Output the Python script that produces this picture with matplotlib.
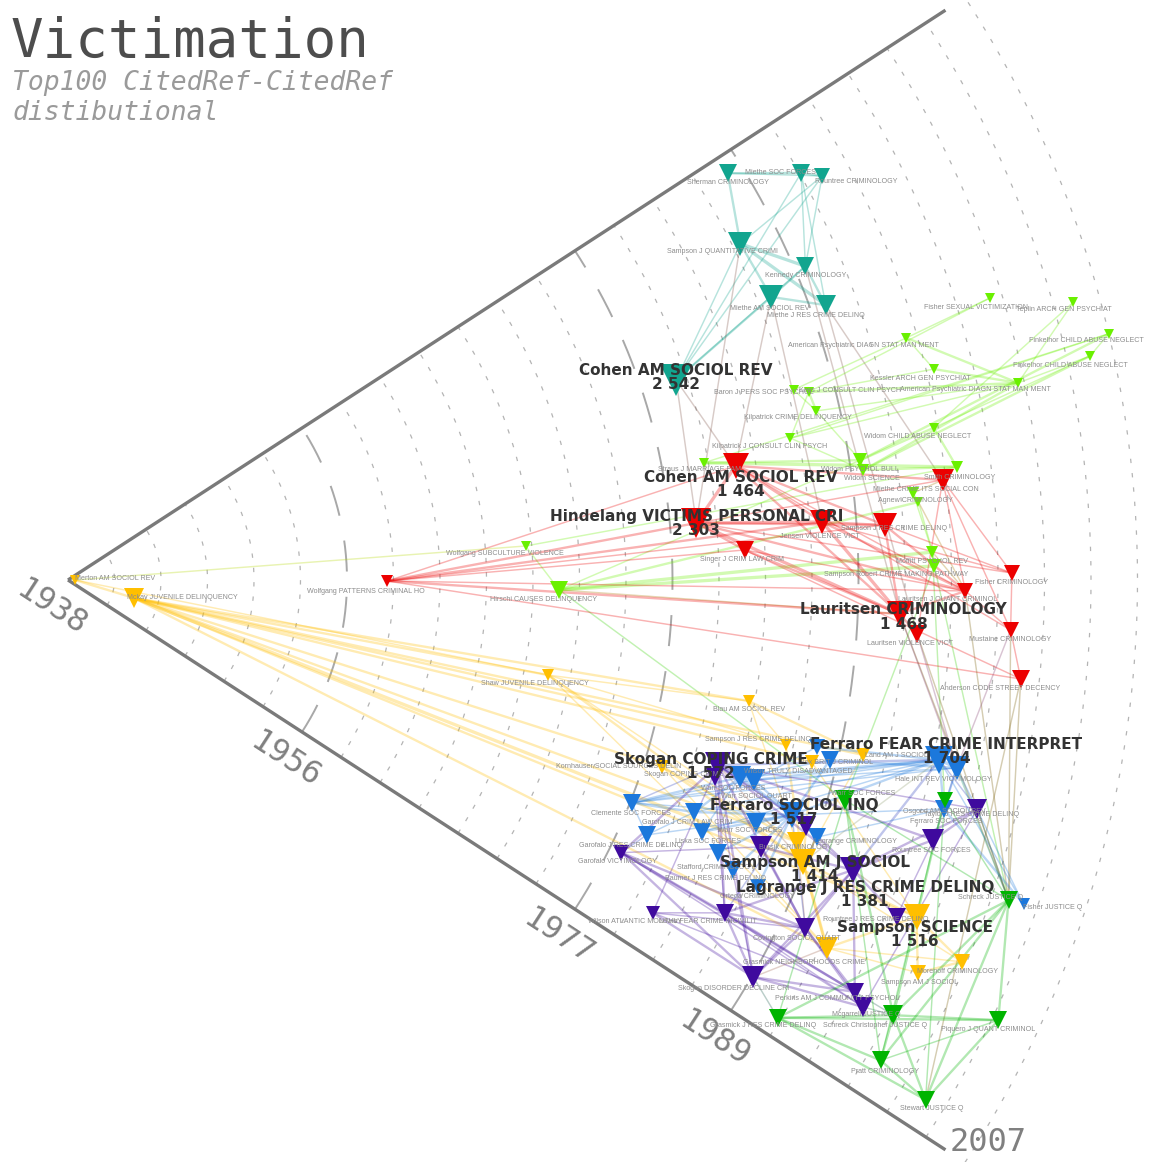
"""Victimation: top-100 co-cited references laid out on a publication-year fan."""

import numpy as np
import matplotlib

matplotlib.use("Agg")
import matplotlib.pyplot as plt
from matplotlib import colors as mcolors

W_PX, H_PX, DPI = 1153, 1162, 100
PT = 72 / DPI  # points per pixel

YEAR_START, YEAR_END = 1938, 2007
YEAR_STEP = 3
MAJOR_YEARS = [1956, 1977, 1989]
LABEL_YEARS = [1938, 1956, 1977, 1989]
HALF_ANGLE = 33.0

GROUP_COLORS = {
    "teal": "#12a58f",
    "red": "#ec0000",
    "lime": "#6af000",
    "gold": "#ffbf00",
    "blue": "#1c78dc",
    "purple": "#3f0a9e",
    "green": "#00b400",
}

# ---- nodes -----------------------------------------------------------------
NODE_ID = [
    "sherman", "mietheSF", "rountreeC", "sampsonQ", "kennedy", "mietheAM", "mietheJR", "cohen79",
    "cohen81", "hindelang", "singer", "jensen", "sampsonJR", "smith", "wolfgangP", "fisherC",
    "lauritsenQ", "lauritsenC", "lauritsenV", "mustaine", "anderson",
    "fisherS", "teplin", "apaU", "finkU", "finkL", "kessler", "apaL", "baron", "koss", "kilpatrickC",
    "widomC", "kilpatrickJ", "straus", "widomP", "widomS", "limeA", "mietheCR", "agnew", "moffitt",
    "sampsonR", "wolfgangS", "hirschi",
    "merton", "mckay", "shaw", "blau", "sampsonJy", "kornhauser", "wilsonTD", "land", "bursik",
    "sampsonA", "grasmickN", "sampsonS", "morenoff", "sampsonA99",
    "ferraroF", "hale", "clemente", "garofaloC", "warrSF", "warrSQ", "ferraroS", "warr85", "liska",
    "garofaloR", "lagrangeC", "stafford", "baumer", "ortega", "box", "blueA", "ferraroSF", "fisherJ",
    "skoganC", "skoganC2", "garofaloV", "wilsonA", "lewis", "covington", "skoganD", "perkins",
    "mcgarrell", "lagrangeJ", "rountreeJ", "rountreeS", "taylorJ", "purpleA", "purpleB",
    "osgood", "warrG", "schreck", "grasmickJ", "schreckC", "piquero", "pratt", "stewart",
]

NODE_LABEL = [
    "Sherman CRIMINOLOGY", "Miethe SOC FORCES", "Rountree CRIMINOLOGY", "Sampson J QUANTITATIVE CRIMI",
    "Kennedy CRIMINOLOGY", "Miethe AM SOCIOL REV", "Miethe J RES CRIME DELINQ", "Cohen AM SOCIOL REV",
    "Cohen AM SOCIOL REV", "Hindelang VICTIMS PERSONAL CRI", "Singer J CRIM LAW CRIM", "Jensen VIOLENCE VICT",
    "Sampson J RES CRIME DELINQ", "Smith CRIMINOLOGY", "Wolfgang PATTERNS CRIMINAL HO", "Fisher CRIMINOLOGY",
    "Lauritsen J QUANT CRIMINOL", "Lauritsen CRIMINOLOGY", "Lauritsen VIOLENCE VICT", "Mustaine CRIMINOLOGY",
    "Anderson CODE STREET DECENCY",
    "Fisher SEXUAL VICTIMIZATION", "Teplin ARCH GEN PSYCHIAT", "American Psychiatric DIAGN STAT MAN MENT",
    "Finkelhor CHILD ABUSE NEGLECT", "Finkelhor CHILD ABUSE NEGLECT", "Kessler ARCH GEN PSYCHIAT",
    "American Psychiatric DIAGN STAT MAN MENT", "Baron J PERS SOC PSYCHOL", "Koss J CONSULT CLIN PSYCH",
    "Kilpatrick CRIME DELINQUENCY", "Widom CHILD ABUSE NEGLECT", "Kilpatrick J CONSULT CLIN PSYCH",
    "Straus J MARRIAGE FAM", "Widom PSYCHOL BULL", "Widom SCIENCE", "", "Miethe CRIME ITS SOCIAL CON",
    "Agnew CRIMINOLOGY", "Moffitt PSYCHOL REV", "Sampson Robert CRIME MAKING PATHWAY",
    "Wolfgang SUBCULTURE VIOLENCE", "Hirschi CAUSES DELINQUENCY",
    "Merton AM SOCIOL REV", "Mckay JUVENILE DELINQUENCY", "Shaw JUVENILE DELINQUENCY", "Blau AM SOCIOL REV",
    "Sampson J RES CRIME DELINQ", "Kornhauser SOCIAL SOURCES DELIN", "Wilson TRULY DISADVANTAGED",
    "Land AM J SOCIOL", "Bursik CRIMINOLOGY", "Sampson AM J SOCIOL", "Grasmick NEIGHBORHOODS CRIME",
    "Sampson SCIENCE", "Morenoff CRIMINOLOGY", "Sampson AM J SOCIOL",
    "Ferraro FEAR CRIME INTERPRET", "Hale INT REV VICTIMOLOGY", "Clemente SOC FORCES",
    "Garofalo J CRIM LAW CRIM", "Warr SOC FORCES", "Warr SOCIOL QUART", "Ferraro SOCIOL INQ",
    "Warr SOC FORCES", "Liska SOC FORCES", "Garofalo J RES CRIME DELINQ", "Lagrange CRIMINOLOGY",
    "Stafford CRIMINOLOGY", "Baumer J RES CRIME DELINQ", "Ortega CRIMINOLOGY", "Box BRIT J CRIMINOL", "",
    "Ferraro SOC FORCES", "Fisher JUSTICE Q",
    "Skogan COPING CRIME", "Skogan COPING CRIME", "Garofalo VICTIMOLOGY", "Wilson ATLANTIC MONTHLY",
    "Lewis FEAR CRIME INCIVILIT", "Covington SOCIOL QUART", "Skogan DISORDER DECLINE CRI",
    "Perkins AM J COMMUNITY PSYCHOL", "Mcgarrell JUSTICE Q", "Lagrange J RES CRIME DELINQ",
    "Rountree J RES CRIME DELINQ", "Rountree SOC FORCES", "Taylor J RES CRIME DELINQ", "", "",
    "Osgood AM SOCIOL REV", "Warr SOC FORCES", "Schreck JUSTICE Q", "Grasmick J RES CRIME DELINQ",
    "Schreck Christopher JUSTICE Q", "Piquero J QUANT CRIMINOL", "Pratt CRIMINOLOGY", "Stewart JUSTICE Q",
]

NODE_YEAR = [
    1988.0, 1992.1, 1993.2, 1986.5, 1989.7, 1986.9, 1990.0, 1979.3,
    1981.7, 1978.7, 1981.7, 1986.8, 1990.8, 1994.8, 1958.6, 1998.9, 1995.9, 1991.7, 1992.9, 1998.9, 1999.8,
    2000.2, 2005.3, 1994.3, 2007.0, 2005.5, 1995.5, 2000.6, 1986.4, 1987.3, 1987.5, 1994.7, 1985.5,
    1979.7, 1989.7, 1989.8, 1995.8, 1992.8, 1993.1, 1993.8, 1993.9, 1967.6, 1969.7,
    1938.45, 1942.4, 1969.6, 1982.6, 1985.5, 1978.2, 1987.4, 1990.5, 1988.0, 1988.8, 1992.4, 1996.9,
    2000.7, 1998.4,
    1995.4, 1996.6, 1977.1, 1981.1, 1983.2, 1984.1, 1987.1, 1985.1, 1982.0, 1978.8, 1989.1, 1983.5,
    1984.8, 1986.7, 1988.5, 1987.5, 1996.4, 2003.1,
    1981.6, 1981.6, 1977.8, 1981.4, 1985.5, 1990.6, 1989.1, 1995.3, 1996.2, 1992.0, 1995.7, 1996.3,
    1998.5, 1985.9, 1988.2,
    1996.3, 1990.1, 2002.1, 1991.8, 1998.2, 2004.4, 1998.9, 2002.7,
]

# angular position inside the fan, degrees (0 = middle, +33 = upper edge)
NODE_ANGLE = [
    31.66, 29.04, 28.18, 26.57, 23.05, 21.93, 19.94, 18.21,
    9.70, 5.18, 2.54, 4.40, 3.85, 6.52, -0.18, 0.42, -0.70, -2.34, -3.64, -3.04, -5.93,
    17.01, 15.45, 16.11, 13.31, 12.36, 13.69, 11.72, 14.69, 14.24, 12.73, 9.97, 11.11,
    10.44, 8.60, 7.87, 7.25, 5.88, 5.24, 1.85, 0.93, 4.25, -1.16,
    0.0, -15.26, -11.20, -10.08, -12.94, -17.45, -13.76, -12.41, -19.77, -20.99, -25.87, -21.65,
    -23.13, -24.81,
    -11.66, -11.94, -21.57, -20.33, -16.34, -16.25, -17.98, -19.45, -21.67, -23.77, -18.94, -22.75,
    -23.56, -23.99, -13.31, -12.57, -14.65, -18.74,
    -15.89, -16.93, -26.23, -29.65, -26.88, -25.27, -30.09, -27.63, -28.24, -20.27, -22.12, -16.71,
    -14.13, -21.07, -18.43,
    -14.08, -15.81, -18.80, -31.67, -27.80, -25.32, -30.59, -31.22,
]

NODE_CITES = [
    500, 600, 450, 1200, 600, 1200, 800, 2542,
    1464, 2303, 500, 1200, 1200, 900, 150, 400, 450, 1468, 600, 450, 500,
    50, 40, 40, 50, 50, 50, 70, 70, 60, 80, 70, 50, 40, 200, 150, 120, 150, 60, 180, 200, 60, 550,
    40, 800, 100, 130, 100, 250, 250, 250, 700, 1414, 900, 1516, 400, 400,
    1704, 1300, 500, 500, 900, 900, 1517, 700, 500, 500, 600, 500, 500, 400, 500, 400, 500, 150,
    1572, 500, 400, 250, 600, 800, 900, 600, 800, 1381, 600, 900, 700, 900, 700,
    400, 700, 500, 500, 700, 600, 500, 600,
]

NODE_GROUP = (["teal"] * 8 + ["red"] * 13 + ["lime"] * 22 + ["gold"] * 14
              + ["blue"] * 18 + ["purple"] * 15 + ["green"] * 8)

# ---- co-citation links (a, b, strength) ------------------------------------
EDGES = [
    ("sherman", "mietheSF", 2), ("mietheSF", "rountreeC", 2), ("sherman", "rountreeC", 1),
    ("sherman", "sampsonQ", 2), ("sampsonQ", "kennedy", 3), ("sampsonQ", "mietheAM", 2),
    ("sampsonQ", "mietheJR", 3), ("kennedy", "mietheAM", 2), ("kennedy", "mietheJR", 2),
    ("mietheAM", "mietheJR", 2), ("mietheSF", "kennedy", 1), ("rountreeC", "kennedy", 1),
    ("mietheSF", "mietheJR", 1), ("mietheSF", "cohen79", 1), ("rountreeC", "cohen79", 1),
    ("sampsonQ", "cohen79", 1), ("mietheAM", "cohen79", 2), ("kennedy", "cohen79", 1),
    ("rountreeC", "sampsonQ", 1),
    ("mietheJR", "smith", 1), ("mietheAM", "cohen81", 1), ("cohen79", "cohen81", 1),
    ("kennedy", "lauritsenC", 1), ("mietheJR", "lauritsenV", 1), ("sampsonQ", "hindelang", 1),
    ("cohen79", "hindelang", 1), ("mietheAM", "jensen", 1),
    # lime
    ("fisherS", "apaU", 1), ("fisherS", "koss", 1), ("teplin", "apaL", 1), ("teplin", "widomC", 1),
    ("apaU", "apaL", 2), ("apaU", "kessler", 1), ("apaU", "baron", 1), ("kessler", "apaL", 2),
    ("kessler", "koss", 1), ("apaL", "koss", 2), ("apaL", "kilpatrickC", 1), ("apaL", "kilpatrickJ", 1),
    ("apaL", "widomS", 2), ("finkU", "finkL", 1), ("finkU", "widomP", 2), ("finkU", "kilpatrickJ", 1),
    ("finkU", "straus", 1), ("finkL", "widomC", 1), ("finkL", "widomS", 2), ("finkL", "apaL", 1),
    ("koss", "kilpatrickC", 2), ("baron", "kilpatrickC", 1), ("koss", "kilpatrickJ", 1),
    ("kilpatrickC", "widomP", 1), ("widomC", "widomP", 2), ("widomC", "limeA", 2),
    ("widomP", "widomS", 2), ("straus", "limeA", 3), ("straus", "widomP", 2),
    ("kilpatrickJ", "widomS", 1), ("mietheCR", "agnew", 1), ("agnew", "moffitt", 1),
    ("moffitt", "sampsonR", 2), ("hirschi", "moffitt", 3), ("hirschi", "sampsonR", 3),
    ("hirschi", "agnew", 2), ("hirschi", "widomP", 1), ("hirschi", "wolfgangS", 1),
    ("merton", "wolfgangS", 1), ("wolfgangS", "limeA", 1), ("widomS", "limeA", 2),
    ("mietheCR", "moffitt", 1),
    ("hirschi", "warrG", 1), ("moffitt", "osgood", 1), ("sampsonR", "warrG", 1),
    ("sampsonR", "schreck", 1), ("hirschi", "lauritsenC", 1), ("mietheCR", "smith", 1),
    ("agnew", "lauritsenQ", 1), ("moffitt", "lauritsenQ", 1),
    # red
    ("wolfgangP", "hindelang", 2), ("wolfgangP", "cohen81", 1), ("wolfgangP", "jensen", 2),
    ("wolfgangP", "lauritsenC", 2), ("wolfgangP", "singer", 1), ("wolfgangP", "anderson", 1),
    ("wolfgangP", "sampsonJR", 1), ("wolfgangP", "lauritsenQ", 1), ("hindelang", "cohen81", 3),
    ("hindelang", "singer", 2), ("hindelang", "jensen", 3), ("hindelang", "sampsonJR", 2),
    ("hindelang", "lauritsenC", 3), ("hindelang", "lauritsenQ", 2), ("hindelang", "smith", 1),
    ("cohen81", "jensen", 2), ("cohen81", "sampsonJR", 2), ("cohen81", "smith", 2),
    ("cohen81", "lauritsenC", 2), ("cohen81", "lauritsenQ", 1), ("jensen", "lauritsenC", 3),
    ("jensen", "sampsonJR", 2), ("jensen", "lauritsenQ", 2), ("sampsonJR", "lauritsenQ", 2),
    ("sampsonJR", "fisherC", 1), ("sampsonJR", "lauritsenC", 2), ("smith", "lauritsenQ", 1),
    ("smith", "fisherC", 1), ("smith", "mustaine", 1), ("smith", "lauritsenV", 1),
    ("lauritsenC", "lauritsenV", 2), ("lauritsenC", "lauritsenQ", 2), ("lauritsenQ", "mustaine", 1),
    ("fisherC", "mustaine", 1), ("mustaine", "anderson", 1), ("singer", "lauritsenC", 2),
    ("singer", "lauritsenQ", 1), ("hindelang", "fisherC", 1), ("cohen81", "mustaine", 1),
    ("singer", "anderson", 1), ("jensen", "fisherC", 1),
    ("lauritsenC", "schreck", 1), ("lauritsenQ", "schreck", 1), ("mustaine", "schreck", 1),
    ("anderson", "schreck", 1), ("lauritsenV", "schreck", 1), ("lauritsenV", "hale", 1),
    ("mustaine", "hale", 1), ("lauritsenC", "hale", 1), ("anderson", "stewart", 1),
    # gold
    ("merton", "mckay", 2), ("mckay", "shaw", 2), ("mckay", "blau", 2), ("mckay", "kornhauser", 2),
    ("mckay", "sampsonJy", 2), ("mckay", "sampsonA", 3), ("mckay", "bursik", 2),
    ("mckay", "wilsonTD", 2), ("mckay", "grasmickN", 2), ("mckay", "land", 2), ("mckay", "sampsonS", 2),
    ("shaw", "blau", 1), ("shaw", "sampsonA", 2), ("shaw", "bursik", 1), ("shaw", "sampsonJy", 1),
    ("shaw", "grasmickN", 1), ("blau", "sampsonJy", 1), ("blau", "land", 2), ("blau", "sampsonA", 1),
    ("kornhauser", "sampsonA", 2), ("kornhauser", "bursik", 2), ("kornhauser", "grasmickN", 1),
    ("sampsonJy", "sampsonA", 2), ("sampsonA", "bursik", 3), ("sampsonA", "grasmickN", 3),
    ("sampsonA", "sampsonS", 2), ("sampsonA", "morenoff", 1), ("bursik", "grasmickN", 2),
    ("grasmickN", "sampsonS", 2), ("grasmickN", "morenoff", 1), ("sampsonS", "morenoff", 2),
    ("sampsonS", "sampsonA99", 2), ("morenoff", "sampsonA99", 2), ("grasmickN", "sampsonA99", 1),
    ("wilsonTD", "sampsonA", 2), ("land", "sampsonA", 1), ("wilsonTD", "sampsonS", 1),
    ("merton", "shaw", 1),
    ("sampsonA", "skoganC", 1), ("bursik", "covington", 1), ("sampsonS", "lagrangeJ", 1),
    ("grasmickN", "skoganD", 1),
    # blue
    ("ferraroF", "hale", 3), ("ferraroF", "ferraroS", 2), ("ferraroF", "warrSF", 2),
    ("ferraroF", "warrSQ", 2), ("ferraroF", "clemente", 1), ("ferraroF", "garofaloC", 1),
    ("ferraroF", "liska", 1), ("ferraroF", "ferraroSF", 2), ("ferraroF", "fisherJ", 1),
    ("hale", "ferraroSF", 2), ("hale", "fisherJ", 1), ("hale", "box", 2), ("clemente", "garofaloC", 2),
    ("clemente", "warrSF", 2), ("clemente", "ferraroS", 1), ("clemente", "warrSQ", 1),
    ("clemente", "garofaloR", 1), ("garofaloC", "warrSF", 2), ("garofaloC", "ferraroS", 2),
    ("liska", "ferraroS", 2), ("warrSF", "warrSQ", 3), ("warrSF", "ferraroS", 2),
    ("warrSQ", "ferraroS", 2), ("ferraroS", "box", 2), ("ferraroS", "lagrangeC", 2),
    ("ferraroS", "ferraroSF", 1), ("stafford", "ferraroS", 2), ("baumer", "ferraroS", 2),
    ("ortega", "ferraroS", 2), ("warr85", "ferraroS", 2), ("lagrangeC", "ferraroSF", 1),
    ("box", "warrSF", 1), ("hale", "warrSQ", 1), ("ferraroSF", "fisherJ", 2), ("blueA", "ferraroF", 2),
    ("blueA", "warrSQ", 1), ("garofaloR", "garofaloC", 1), ("stafford", "baumer", 1),
    ("garofaloR", "ferraroS", 1), ("hale", "clemente", 1), ("liska", "warrSF", 1),
    ("ferraroF", "skoganC", 2), ("ferraroS", "skoganC", 2), ("ferraroF", "lagrangeJ", 2),
    ("hale", "rountreeS", 1), ("ferraroF", "taylorJ", 1), ("warrSF", "skoganC", 2),
    ("ferraroS", "lewis", 1), ("ferraroF", "sampsonA", 1), ("hale", "schreck", 1),
    ("garofaloR", "garofaloV", 1), ("clemente", "skoganC", 1), ("ferraroS", "covington", 1),
    # purple
    ("skoganC", "garofaloV", 2), ("skoganC", "wilsonA", 1), ("skoganC", "lewis", 2),
    ("skoganC", "lagrangeJ", 2), ("skoganC", "skoganD", 2), ("skoganC", "covington", 2),
    ("skoganC", "rountreeS", 2), ("skoganC", "taylorJ", 1), ("garofaloV", "lewis", 2),
    ("garofaloV", "covington", 2), ("garofaloV", "skoganD", 2), ("garofaloV", "perkins", 2),
    ("garofaloV", "mcgarrell", 1), ("wilsonA", "lewis", 1), ("wilsonA", "skoganD", 2),
    ("wilsonA", "covington", 1), ("wilsonA", "perkins", 1), ("lewis", "covington", 2),
    ("lewis", "skoganD", 2), ("lewis", "lagrangeJ", 2), ("lewis", "perkins", 2), ("lewis", "mcgarrell", 1),
    ("covington", "lagrangeJ", 2), ("covington", "skoganD", 2), ("covington", "perkins", 2),
    ("covington", "mcgarrell", 2), ("lagrangeJ", "rountreeS", 2), ("lagrangeJ", "taylorJ", 2),
    ("lagrangeJ", "skoganD", 2), ("lagrangeJ", "perkins", 2), ("lagrangeJ", "rountreeJ", 2),
    ("rountreeJ", "rountreeS", 1), ("rountreeS", "taylorJ", 2), ("skoganD", "perkins", 2),
    ("skoganD", "mcgarrell", 2), ("perkins", "mcgarrell", 2), ("purpleA", "lagrangeJ", 2),
    ("purpleA", "covington", 2), ("purpleB", "lagrangeJ", 2), ("purpleA", "garofaloV", 1),
    ("purpleB", "skoganC", 1), ("taylorJ", "mcgarrell", 1), ("skoganC2", "skoganD", 1),
    ("skoganC2", "lewis", 1),
    ("taylorJ", "schreck", 1), ("mcgarrell", "schreckC", 1), ("perkins", "schreckC", 1),
    ("skoganD", "grasmickJ", 1),
    # green
    ("schreck", "schreckC", 2), ("schreck", "piquero", 2), ("schreck", "pratt", 2),
    ("schreck", "stewart", 2), ("schreck", "grasmickJ", 2), ("schreck", "osgood", 1),
    ("schreck", "warrG", 1), ("grasmickJ", "schreckC", 2), ("grasmickJ", "pratt", 2),
    ("grasmickJ", "stewart", 2), ("grasmickJ", "piquero", 2), ("schreckC", "pratt", 2),
    ("schreckC", "stewart", 2), ("schreckC", "piquero", 2), ("piquero", "pratt", 1),
    ("piquero", "stewart", 2), ("pratt", "stewart", 2), ("osgood", "schreckC", 2),
    ("osgood", "pratt", 1), ("warrG", "grasmickJ", 1), ("warrG", "schreckC", 2),
    ("osgood", "stewart", 1), ("warrG", "pratt", 1),
]

# ---- layout tweaks (pixels; dy positive = downwards) -----------------------
R_PX = 1069.5          # radius of the YEAR_END arc
APEX_PX = (68, 580)    # fan apex, measured from the top-left corner
EDGE_END_YEAR = 2005.5
LABEL_NUDGE = {
    "mietheSF": (-21, 0), "rountreeC": (34, 6), "sampsonQ": (-18, 8), "mietheAM": (-1, 12),
    "mietheJR": (-10, 10), "fisherS": (-14, 10), "teplin": (-10, 7), "apaU": (-43, 8),
    "finkU": (-22, 7), "finkL": (-20, 9), "kessler": (-14, 9), "apaL": (-43, 7), "baron": (-30, 3),
    "koss": (41, -2), "kilpatrickC": (-18, 7), "widomC": (-16, 9), "kilpatrickJ": (-21, 8),
    "straus": (-4, 7), "widomS": (9, 8), "smith": (17, -3), "mietheCR": (13, -3), "agnew": (-3, -2),
    "sampsonR": (-38, 9), "wolfgangS": (-21, 8), "hirschi": (-16, 10), "jensen": (-2, 15),
    "sampsonJR": (10, 3), "wolfgangP": (-21, 10), "lauritsenQ": (-18, 9), "lauritsenV": (-7, 9),
    "anderson": (-21, 10), "merton": (40, -2), "mckay": (49, 0), "shaw": (-14, 8),
    "sampsonJy": (-27, -5), "kornhauser": (-44, 0), "wilsonTD": (-13, 9), "land": (34, 1),
    "box": (7, 2), "bursik": (-2, 5), "grasmickN": (-23, 15), "hale": (-13, 12),
    "ferraroSF": (2, 13), "osgood": (0, 12), "taylorJ": (-6, 6), "rountreeS": (-2, 11),
    "fisherJ": (29, 3), "schreck": (-18, -3), "clemente": (-1, 11), "garofaloC": (-7, 10),
    "garofaloR": (-16, 11), "liska": (6, 10), "warrSF": (-7, 11), "warrSQ": (2, 17),
    "warr85": (-6, 7), "lagrangeC": (38, 4), "stafford": (-3, 15), "baumer": (-17, 9),
    "ortega": (0, 10), "wilsonA": (-18, 9), "lewis": (-17, 9), "covington": (-8, 10),
    "rountreeJ": (-21, 3), "skoganD": (-20, 11), "perkins": (-18, 7), "mcgarrell": (4, 8),
    "grasmickJ": (-15, 8), "schreckC": (-18, 10), "piquero": (-10, 9), "pratt": (4, 11),
    "stewart": (6, 9), "warrG": (18, -7), "skoganC2": (-31, -2), "garofaloV": (-4, 9),
    "singer": (-3, 10), "morenoff": (-4, 10), "sampsonA99": (2, 10),
}
BIG_NUDGE = {
    "cohen79": (0, -2), "cohen81": (5, 19), "hindelang": (0, 0), "lauritsenC": (4, 3),
    "ferraroF": (7, -8), "skoganC": (-7, 1), "ferraroS": (2, -2), "sampsonA": (12, 7),
    "lagrangeJ": (12, 25), "sampsonS": (-2, 18),
}
N_BIG = 10
SMALL_FONT = dict(fontsize=5.1, family="Liberation Sans", color="#8c8c8c")


def offset_pts(dx_px, dy_px):
    return (dx_px * PT, -dy_px * PT)


def marker_px(cites):
    return 6 + 26 * np.sqrt(cites / max(NODE_CITES))


fig = plt.figure(figsize=(W_PX / DPI, H_PX / DPI), dpi=DPI, facecolor="white")
side = 2 * np.sin(np.deg2rad(HALF_ANGLE)) * R_PX
left = APEX_PX[0] - (side - R_PX) / 2
top = APEX_PX[1] - side / 2
ax = fig.add_axes([left / W_PX, 1 - (top + side) / H_PX, side / W_PX, side / H_PX],
                  projection="polar")
ax.set_thetamin(-HALF_ANGLE)
ax.set_thetamax(HALF_ANGLE)
ax.set_rlim(YEAR_START, YEAR_END)
ax.set_xticks([])
ax.set_yticks([])
ax.grid(False)
ax.patch.set_facecolor("none")
for sp in ax.spines.values():
    sp.set_edgecolor("none")

# year arcs
arc = np.deg2rad(np.linspace(-HALF_ANGLE, HALF_ANGLE, 240))
for yr in range(YEAR_START + YEAR_STEP, YEAR_END + 1, YEAR_STEP):
    if yr in MAJOR_YEARS:
        ax.plot(arc, np.full_like(arc, yr), color="#a8a8a8", lw=1.4,
                ls=(0, (16, 13)), zorder=0.5, clip_on=False)
    else:
        ax.plot(arc, np.full_like(arc, yr), color="#b4b4b4", lw=0.9,
                ls=(0, (3.5, 8)), zorder=0.5, clip_on=False)

# fan edges
for side_ang in (-HALF_ANGLE, HALF_ANGLE):
    th = np.deg2rad(side_ang)
    ax.plot([th, th], [YEAR_START, EDGE_END_YEAR], color="#7a7a7a", lw=2.4,
            solid_capstyle="butt", zorder=1, clip_on=False)

idx = {nid: i for i, nid in enumerate(NODE_ID)}
theta = np.deg2rad(np.array(NODE_ANGLE))
years = np.array(NODE_YEAR)

# links, coloured by the mix of both ends
for a, b, w in EDGES:
    i, j = idx[a], idx[b]
    ca = np.array(mcolors.to_rgb(GROUP_COLORS[NODE_GROUP[i]]))
    cb = np.array(mcolors.to_rgb(GROUP_COLORS[NODE_GROUP[j]]))
    ax.plot([theta[i], theta[j]], [years[i], years[j]], color=(ca + cb) / 2,
            alpha=0.3, lw=0.4 + 0.65 * w, solid_capstyle="round", zorder=1.5, clip_on=False)

# nodes
for i in range(len(NODE_ID)):
    ax.plot(theta[i], years[i], marker="v", ms=marker_px(NODE_CITES[i]) * PT,
            color=GROUP_COLORS[NODE_GROUP[i]], mew=0, ls="none", zorder=3, clip_on=False)

big = set(np.argsort(NODE_CITES)[::-1][:N_BIG])
for i, nid in enumerate(NODE_ID):
    if i in big or not NODE_LABEL[i]:
        continue
    dx, dy = LABEL_NUDGE.get(nid, (0, 9))
    ax.annotate(NODE_LABEL[i], xy=(theta[i], years[i]), xytext=offset_pts(dx, dy),
                textcoords="offset points", ha="center", va="center",
                zorder=4, annotation_clip=False, **SMALL_FONT)

for i in big:
    nid = NODE_ID[i]
    dx, dy = BIG_NUDGE.get(nid, (0, 5))
    txt = f"{NODE_LABEL[i]}\n{NODE_CITES[i]:,}".replace(",", " ")
    ax.annotate(txt, xy=(theta[i], years[i]), xytext=offset_pts(dx, dy),
                textcoords="offset points", ha="center", va="center", fontsize=11,
                fontweight="bold", color="#333333", linespacing=0.92,
                zorder=5, annotation_clip=False)

# year labels along the lower edge
low = np.deg2rad(-HALF_ANGLE)
for yr in LABEL_YEARS:
    ax.annotate(str(yr), xy=(low, yr), xytext=offset_pts(-17, 28), textcoords="offset points",
                ha="center", va="center", rotation=-HALF_ANGLE, fontsize=23,
                family="DejaVu Sans Mono", color="#808080", annotation_clip=False)
ax.annotate(str(YEAR_END), xy=(low, YEAR_END), xytext=offset_pts(23, -20),
            textcoords="offset points", ha="center", va="center", fontsize=23,
            family="DejaVu Sans Mono", color="#808080", annotation_clip=False)

# snap the fan onto the intended pixel frame
for _ in range(2):
    fig.canvas.draw()
    apex = ax.transData.transform((0.0, YEAR_START))
    rim = ax.transData.transform((0.0, YEAR_END))
    k = R_PX / (rim[0] - apex[0])
    pos = ax.get_position()
    x0, y0 = pos.x0 * W_PX, pos.y0 * H_PX
    w, h = pos.width * W_PX * k, pos.height * H_PX * k
    nx = APEX_PX[0] - (apex[0] - x0) * k
    ny = (H_PX - APEX_PX[1]) - (apex[1] - y0) * k
    ax.set_position([nx / W_PX, ny / H_PX, w / W_PX, h / H_PX])

fig.text(10 / W_PX, 1 - 57 / H_PX, "Victimation", fontsize=39, family="DejaVu Sans Mono",
         color="#4d4d4d", va="baseline", ha="left")
fig.text(12 / W_PX, 1 - 90 / H_PX, "Top100 CitedRef-CitedRef", fontsize=19, style="italic",
         family="DejaVu Sans Mono", color="#9a9a9a", va="baseline", ha="left")
fig.text(12 / W_PX, 1 - 120 / H_PX, "distibutional", fontsize=19, style="italic",
         family="DejaVu Sans Mono", color="#9a9a9a", va="baseline", ha="left")

fig.savefig("out.png", dpi=DPI, facecolor="white")
